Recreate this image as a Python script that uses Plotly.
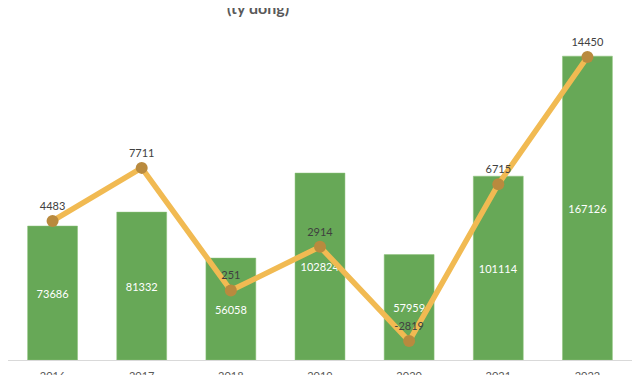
import plotly.graph_objects as go

years = ["2016", "2017", "2018", "2019", "2020", "2021", "2022"]
bar_values = [73686, 81332, 56058, 102824, 57959, 101114, 167126]
line_values = [4483, 7711, 251, 2914, -2819, 6715, 14450]
title_text = "(tỷ đồng)"

fig = go.Figure()
fig.add_trace(go.Bar(
    x=years, y=bar_values,
    marker=dict(color="#67A857", line=dict(color="#8CC27A", width=0.5)),
    text=[str(v) for v in bar_values],
    textposition="inside", insidetextanchor="middle",
    textfont=dict(color="white", size=11, family="Lato"),
    cliponaxis=False,
    showlegend=False,
))
fig.add_trace(go.Scatter(
    x=years, y=line_values, yaxis="y2",
    mode="lines+markers+text",
    line=dict(color="#F1BA52", width=5.5),
    marker=dict(color="#B98A3E", size=12),
    text=[str(v) for v in line_values],
    textposition="top center",
    textfont=dict(color="#404040", size=11, family="Lato"),
    cliponaxis=False,
    showlegend=False,
))

fig.update_layout(
    width=640, height=375,
    margin=dict(l=0, r=16, t=32, b=23),
    paper_bgcolor="white", plot_bgcolor="white",
    bargap=0.44,
    font=dict(family="Lato", color="#595959"),
    xaxis=dict(
        showgrid=False, showline=True, linecolor="#D9D9D9", linewidth=1,
        ticks="", ticklabelstandoff=6,
        tickfont=dict(size=11, color="#595959"), automargin=False,
    ),
    yaxis=dict(range=[0, 176000], visible=False, showgrid=False, zeroline=False),
    yaxis2=dict(range=[-3970, 15486], overlaying="y", visible=False,
                showgrid=False, zeroline=False),
    annotations=[dict(
        text="<b>" + title_text + "</b>", xref="paper", yref="paper",
        x=0.4, y=1.1, xanchor="center", yanchor="middle", showarrow=False,
        font=dict(size=16, color="#595959", family="Liberation Sans Narrow, Lato"),
    )],
)

fig.write_html("out.html")
